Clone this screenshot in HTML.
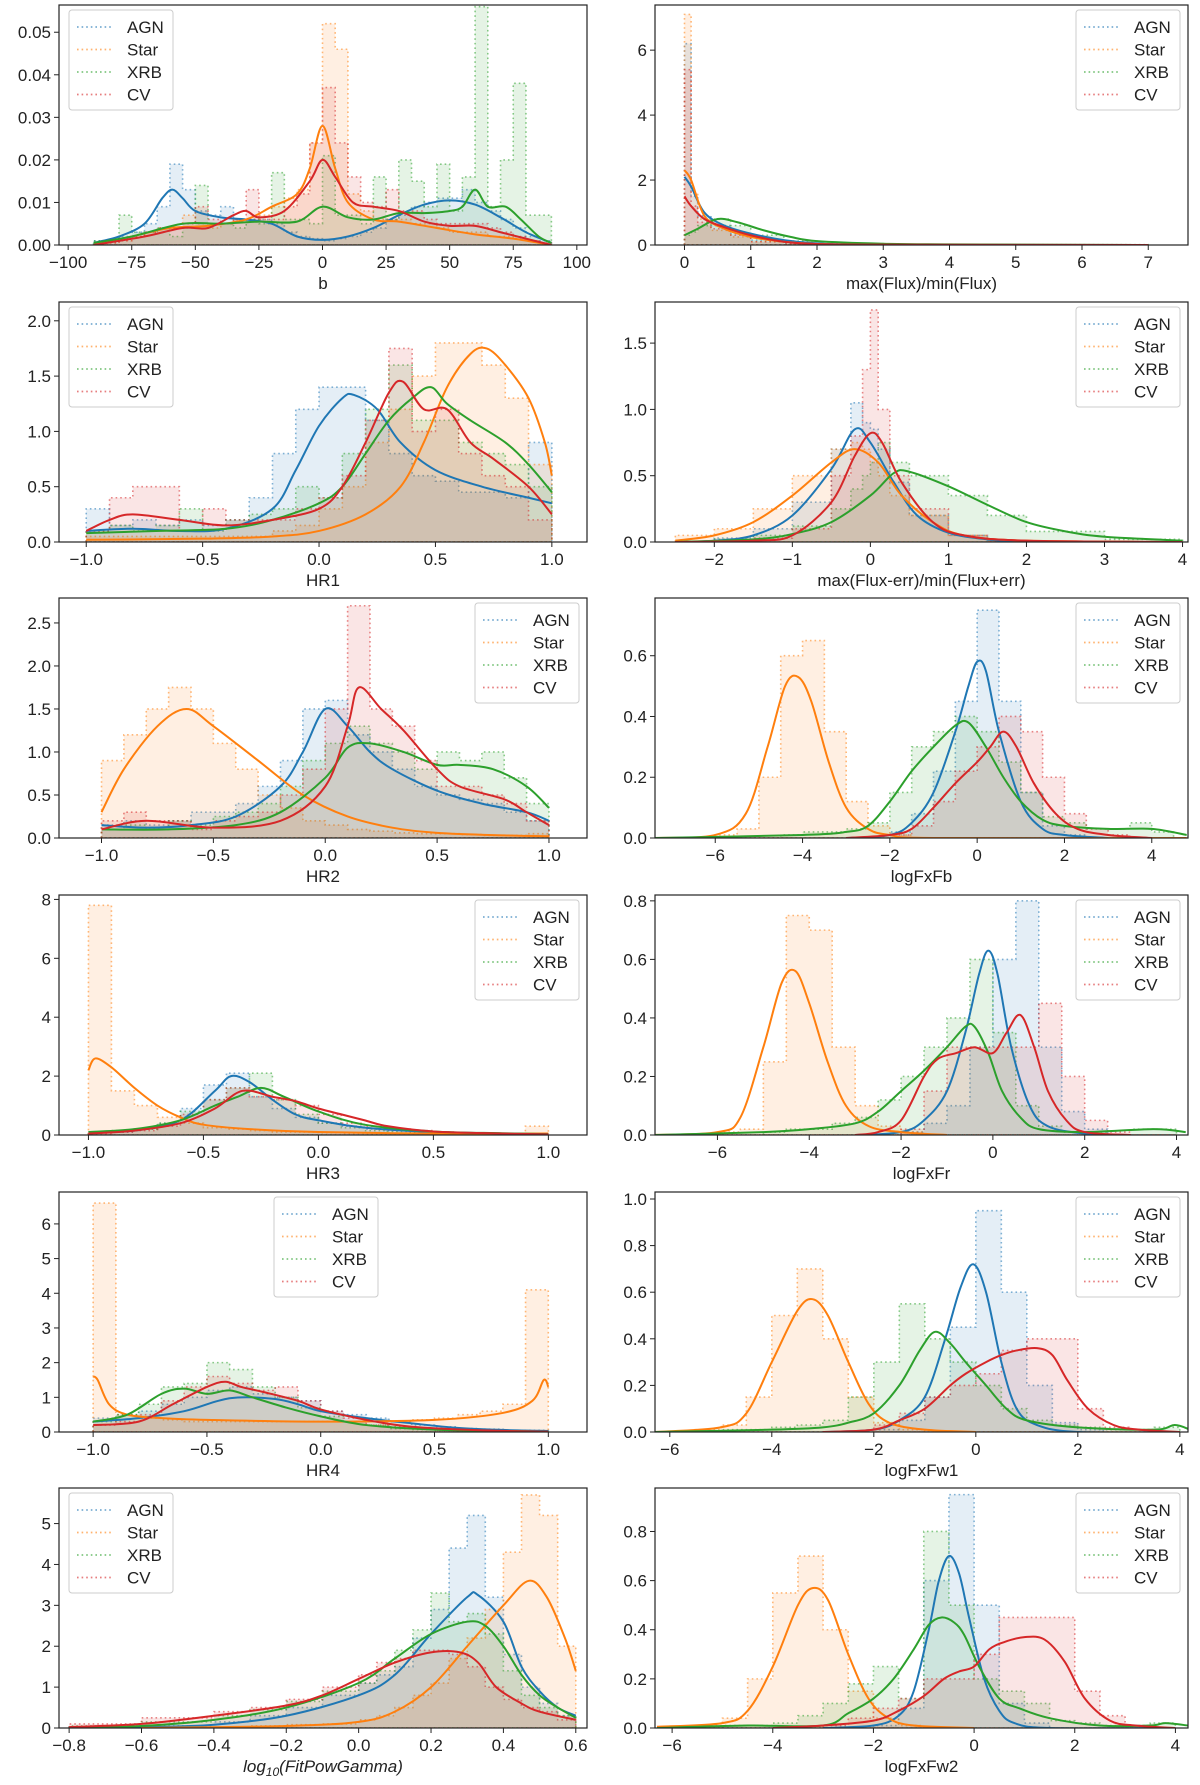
<!DOCTYPE html>
<html><head><meta charset="utf-8"><style>
html,body{margin:0;padding:0;background:#fff;}
svg{display:block;font-family:"Liberation Sans","DejaVu Sans",sans-serif;}
</style></head><body>
<svg id="fig" width="1200" height="1785" viewBox="0 0 1200 1785" xmlns="http://www.w3.org/2000/svg"></svg>
<script>
const seriesNames=["AGN","Star","XRB","CV"];
const seriesColors=["#1f77b4","#ff7f0e","#2ca02c","#d62728"];

// ---- Panel 1: b ----
const p1Edges=[-90,-85,-80,-75,-70,-65,-60,-55,-50,-45,-40,-35,-30,-25,-20,-15,-10,-5,0,5,10,15,20,25,30,35,40,45,50,55,60,65,70,75,80,85,90];
const p1HistAGN=[0.001,0.001,0.002,0.003,0.005,0.009,0.019,0.013,0.008,0.007,0.009,0.006,0.006,0.006,0.005,0.003,0.002,0.0015,0.001,0.0015,0.002,0.003,0.004,0.006,0.007,0.009,0.01,0.011,0.011,0.013,0.01,0.008,0.006,0.004,0.002,0.001];
const p1HistStar=[0,0.0005,0.001,0.002,0.003,0.004,0.004,0.007,0.005,0.004,0.005,0.006,0.006,0.007,0.009,0.011,0.013,0.024,0.052,0.046,0.012,0.008,0.006,0.006,0.006,0.005,0.005,0.004,0.003,0.003,0.003,0.002,0.002,0.0015,0.001,0.0005];
const p1HistXRB=[0.001,0.001,0.007,0.003,0.003,0.004,0.002,0.004,0.014,0.005,0.005,0.004,0.006,0.005,0.017,0.006,0.006,0.005,0.021,0.007,0.007,0.005,0.016,0.006,0.02,0.015,0.009,0.019,0.008,0.016,0.056,0.009,0.02,0.038,0.007,0.007];
const p1HistCV=[0,0.0005,0.001,0.002,0.003,0.004,0.004,0.005,0.009,0.006,0.005,0.006,0.013,0.006,0.006,0.009,0.012,0.024,0.037,0.024,0.016,0.01,0.009,0.013,0.008,0.008,0.006,0.005,0.005,0.005,0.005,0.004,0.003,0.002,0.001,0.0005];
const p1KdeAGN=[[-90,0.0005],[-80,0.002],[-70,0.005],[-63,0.011],[-59,0.013],[-55,0.011],[-50,0.008],[-40,0.0065],[-30,0.006],[-20,0.005],[-10,0.002],[0,0.0012],[10,0.002],[20,0.004],[30,0.007],[40,0.0095],[50,0.0105],[60,0.0095],[70,0.0065],[80,0.003],[90,0.0005]];
const p1KdeStar=[[-90,0],[-75,0.002],[-60,0.004],[-45,0.0045],[-30,0.006],[-20,0.009],[-10,0.012],[-5,0.018],[0,0.028],[5,0.018],[10,0.01],[20,0.006],[30,0.0055],[45,0.004],[60,0.0025],[75,0.0015],[90,0]];
const p1KdeXRB=[[-90,0.0005],[-75,0.002],[-55,0.005],[-40,0.005],[-25,0.0055],[-10,0.0055],[0,0.009],[10,0.0065],[20,0.006],[30,0.0075],[40,0.0075],[50,0.008],[55,0.009],[60,0.013],[65,0.009],[72,0.009],[78,0.006],[85,0.002],[90,0.0005]];
const p1KdeCV=[[-90,0],[-70,0.002],[-55,0.004],[-45,0.004],[-35,0.007],[-30,0.008],[-25,0.0065],[-15,0.008],[-5,0.015],[0,0.02],[5,0.016],[12,0.01],[20,0.009],[30,0.008],[40,0.0055],[50,0.0045],[60,0.0045],[70,0.003],[80,0.0015],[90,0]];
const p1XTicks=[-100,-75,-50,-25,0,25,50,75,100];
const p1YTicks=[0,0.01,0.02,0.03,0.04,0.05];
const p1YLabels=["0.00","0.01","0.02","0.03","0.04","0.05"];

// ---- Panel 2: max(Flux)/min(Flux) ----
const p2Edges=[0,0.1,0.2,0.4,0.7,1.0,1.5,2,3,7];
const p2HistAGN=[6.2,1.5,0.9,0.6,0.35,0.15,0.05,0.01,0];
const p2HistStar=[7.1,1.6,0.8,0.45,0.25,0.1,0.03,0.01,0];
const p2HistXRB=[0.3,0.4,0.6,0.8,0.6,0.3,0.12,0.04,0.01];
const p2HistCV=[5.4,1.2,0.7,0.5,0.3,0.1,0.03,0.01,0];
const p2KdeAGN=[[0,2.1],[0.1,1.8],[0.3,1.0],[0.6,0.6],[1,0.35],[1.5,0.15],[2,0.05],[3,0.01],[7,0]];
const p2KdeStar=[[0,2.3],[0.1,2.0],[0.3,0.9],[0.6,0.5],[1,0.25],[1.5,0.1],[2,0.03],[3,0.01],[7,0]];
const p2KdeXRB=[[0,0.3],[0.2,0.5],[0.5,0.8],[0.8,0.7],[1.2,0.45],[1.6,0.25],[2,0.12],[3,0.04],[4,0.02],[7,0]];
const p2KdeCV=[[0,1.5],[0.1,1.2],[0.3,0.8],[0.6,0.55],[1,0.3],[1.5,0.1],[2,0.03],[3,0.01],[7,0]];
const p2XTicks=[0,1,2,3,4,5,6,7];
const p2YTicks=[0,2,4,6];

// ---- Panel 3: HR1 ----
const p3Edges=[-1,-0.9,-0.8,-0.7,-0.6,-0.5,-0.4,-0.3,-0.2,-0.1,0,0.1,0.2,0.3,0.4,0.5,0.6,0.7,0.8,0.9,1.0];
const p3HistAGN=[0.3,0.15,0.2,0.15,0.2,0.15,0.2,0.4,0.8,1.2,1.4,1.4,1.1,0.8,0.6,0.55,0.45,0.45,0.4,0.9];
const p3HistStar=[0.05,0.05,0.05,0.05,0.05,0.05,0.05,0.05,0.1,0.15,0.3,0.5,0.9,1.2,1.5,1.8,1.8,1.6,1.3,0.7];
const p3HistXRB=[0.1,0.15,0.1,0.15,0.3,0.1,0.2,0.25,0.3,0.5,0.4,0.8,1.2,1.6,1.1,1.1,0.9,0.8,0.7,0.5];
const p3HistCV=[0.1,0.4,0.5,0.5,0.1,0.3,0.2,0.2,0.2,0.3,0.4,0.6,1.1,1.75,1.0,1.2,0.8,0.6,0.5,0.2];
const p3KdeAGN=[[-1,0.1],[-0.8,0.12],[-0.6,0.1],[-0.4,0.12],[-0.2,0.3],[-0.1,0.65],[0,1.05],[0.1,1.3],[0.15,1.33],[0.25,1.2],[0.35,0.9],[0.5,0.65],[0.7,0.5],[0.9,0.4],[1,0.35]];
const p3KdeStar=[[-1,0.02],[-0.5,0.03],[-0.2,0.05],[0,0.1],[0.2,0.25],[0.35,0.5],[0.45,0.9],[0.55,1.4],[0.65,1.7],[0.72,1.75],[0.8,1.6],[0.9,1.3],[0.97,0.9],[1.0,0.6]];
const p3KdeXRB=[[-1,0.08],[-0.7,0.1],[-0.4,0.12],[-0.2,0.2],[0,0.35],[0.1,0.5],[0.2,0.8],[0.3,1.1],[0.4,1.3],[0.48,1.4],[0.55,1.25],[0.65,1.1],[0.8,0.9],[0.9,0.7],[1,0.45]];
const p3KdeCV=[[-1,0.1],[-0.9,0.2],[-0.8,0.25],[-0.6,0.2],[-0.4,0.15],[-0.2,0.2],[0,0.3],[0.1,0.5],[0.2,0.9],[0.3,1.35],[0.36,1.45],[0.45,1.2],[0.55,1.2],[0.65,0.9],[0.75,0.75],[0.9,0.5],[1,0.25]];
const p3XTicks=[-1,-0.5,0,0.5,1];
const p3XLabels=["−1.0","−0.5","0.0","0.5","1.0"];
const p3YTicks=[0,0.5,1,1.5,2];
const p3YLabels=["0.0","0.5","1.0","1.5","2.0"];

// ---- Panel 4: max(Flux-err)/min(Flux+err) ----
const p4Edges=[-2.5,-2,-1.5,-1,-0.5,-0.25,-0.1,0,0.1,0.25,0.5,1,1.5,2,3,4];
const p4HistAGN=[0,0.03,0.1,0.3,0.7,1.05,0.9,0.85,0.7,0.45,0.2,0.05,0.01,0,0];
const p4HistStar=[0.05,0.1,0.25,0.5,0.7,0.75,0.7,0.6,0.5,0.35,0.2,0.05,0.01,0,0];
const p4HistXRB=[0,0.02,0.05,0.12,0.25,0.4,0.5,0.6,0.75,0.6,0.5,0.35,0.2,0.08,0.02];
const p4HistCV=[0,0,0.03,0.1,0.5,0.8,1.3,1.75,1.0,0.5,0.25,0.05,0.01,0,0];
const p4KdeAGN=[[-2.5,0],[-2,0.01],[-1.5,0.05],[-1,0.2],[-0.5,0.55],[-0.2,0.85],[0,0.75],[0.3,0.45],[0.6,0.2],[1,0.07],[1.5,0.02],[2,0.005],[4,0]];
const p4KdeStar=[[-2.5,0.01],[-2,0.05],[-1.5,0.15],[-1,0.35],[-0.5,0.6],[-0.2,0.7],[0.1,0.6],[0.4,0.35],[0.8,0.15],[1.2,0.05],[2,0.01],[4,0]];
const p4KdeXRB=[[-2.5,0],[-1.5,0.02],[-1,0.06],[-0.5,0.15],[0,0.35],[0.3,0.52],[0.5,0.53],[1,0.42],[1.5,0.28],[2,0.15],[2.5,0.08],[3,0.04],[4,0.01]];
const p4KdeCV=[[-2.5,0],[-1.5,0.01],[-1,0.05],[-0.5,0.3],[-0.2,0.65],[0,0.82],[0.15,0.75],[0.4,0.45],[0.8,0.15],[1.2,0.05],[2,0.01],[4,0]];
const p4XTicks=[-2,-1,0,1,2,3,4];
const p4YTicks=[0,0.5,1,1.5];
const p4YLabels=["0.0","0.5","1.0","1.5"];

// ---- Panel 5: HR2 ----
const p5Edges=[-1,-0.9,-0.8,-0.7,-0.6,-0.5,-0.4,-0.3,-0.2,-0.1,0,0.1,0.2,0.3,0.4,0.5,0.6,0.7,0.8,0.9,1.0];
const p5HistAGN=[0.15,0.2,0.15,0.2,0.3,0.3,0.4,0.6,0.9,1.5,1.6,1.2,1.0,0.8,0.6,0.5,0.45,0.4,0.3,0.2];
const p5HistStar=[0.9,1.2,1.5,1.75,1.5,1.1,0.8,0.5,0.35,0.2,0.15,0.1,0.08,0.06,0.05,0.05,0.04,0.03,0.03,0.05];
const p5HistXRB=[0.1,0.15,0.1,0.2,0.15,0.25,0.3,0.4,0.6,0.9,1.1,1.3,1.1,1.0,0.8,1.0,0.9,1.0,0.7,0.4];
const p5HistCV=[0.2,0.3,0.2,0.2,0.1,0.2,0.25,0.3,0.5,0.8,1.5,2.7,1.5,1.3,0.9,0.6,0.6,0.5,0.4,0.2];
const p5KdeAGN=[[-1,0.15],[-0.8,0.12],[-0.6,0.15],[-0.4,0.25],[-0.2,0.6],[-0.1,1.0],[0,1.5],[0.1,1.3],[0.2,1.0],[0.3,0.8],[0.5,0.55],[0.7,0.4],[0.9,0.3],[1,0.2]];
const p5KdeStar=[[-1,0.3],[-0.9,0.8],[-0.75,1.3],[-0.62,1.5],[-0.5,1.3],[-0.3,0.9],[-0.1,0.5],[0.1,0.25],[0.3,0.12],[0.5,0.06],[0.8,0.03],[1,0.02]];
const p5KdeXRB=[[-1,0.1],[-0.7,0.1],[-0.4,0.15],[-0.2,0.3],[0,0.7],[0.1,1.05],[0.2,1.1],[0.35,1.0],[0.5,0.85],[0.6,0.85],[0.75,0.8],[0.9,0.6],[1,0.35]];
const p5KdeCV=[[-1,0.1],[-0.8,0.2],[-0.5,0.12],[-0.2,0.2],[0,0.6],[0.1,1.3],[0.15,1.75],[0.25,1.5],[0.35,1.25],[0.5,0.8],[0.6,0.6],[0.8,0.45],[0.9,0.3],[1,0.15]];
const p5YTicks=[0,0.5,1,1.5,2,2.5];
const p5YLabels=["0.0","0.5","1.0","1.5","2.0","2.5"];

// ---- Panel 6: logFxFb ----
const p6Edges=[-7,-6.5,-6,-5.5,-5,-4.5,-4,-3.5,-3,-2.5,-2,-1.5,-1,-0.5,0,0.5,1,1.5,2,2.5,3,3.5,4,4.5];
const p6HistAGN=[0,0,0,0,0,0,0,0,0,0,0.02,0.08,0.22,0.45,0.75,0.45,0.15,0.04,0.01,0,0,0,0];
const p6HistStar=[0,0,0.01,0.03,0.2,0.6,0.65,0.35,0.12,0.04,0.01,0,0,0,0,0,0,0,0,0,0,0,0];
const p6HistXRB=[0,0,0,0,0,0.01,0.02,0.02,0.03,0.05,0.15,0.3,0.35,0.4,0.35,0.25,0.15,0.07,0.05,0.03,0.03,0.05,0.02];
const p6HistCV=[0,0,0,0,0,0,0,0,0,0,0.01,0.04,0.12,0.22,0.3,0.4,0.35,0.2,0.08,0.03,0.01,0,0];
const p6KdeAGN=[[-3,0],[-2,0.01],[-1.5,0.05],[-1,0.15],[-0.5,0.35],[-0.2,0.5],[0,0.58],[0.2,0.55],[0.5,0.35],[1,0.12],[1.5,0.03],[2,0.01],[3,0]];
const p6KdeStar=[[-7.4,0],[-6,0.01],[-5.3,0.08],[-4.8,0.3],[-4.4,0.5],[-4.1,0.53],[-3.8,0.45],[-3.4,0.25],[-3,0.1],[-2.5,0.03],[-2,0.01],[-1,0],[4.8,0]];
const p6KdeXRB=[[-7.4,0],[-4,0.01],[-3,0.02],[-2.5,0.04],[-2,0.12],[-1.5,0.22],[-1,0.3],[-0.5,0.37],[-0.2,0.38],[0.2,0.3],[0.6,0.2],[1,0.12],[1.5,0.06],[2,0.04],[3,0.03],[4,0.03],[4.8,0.01]];
const p6KdeCV=[[-3,0],[-2,0.01],[-1.5,0.03],[-1,0.1],[-0.5,0.18],[0,0.25],[0.3,0.3],[0.6,0.35],[0.9,0.3],[1.3,0.18],[1.8,0.08],[2.3,0.03],[3,0.01],[4,0]];
const p6XTicks=[-6,-4,-2,0,2,4];
const p6YTicks=[0,0.2,0.4,0.6];
const p6YLabels=["0.0","0.2","0.4","0.6"];

// ---- Panel 7: HR3 ----
const p7Edges=p5Edges;
const p7HistAGN=[0.1,0.1,0.2,0.4,0.9,1.7,2.1,1.3,0.9,0.6,0.4,0.3,0.2,0.15,0.1,0.08,0.06,0.05,0.04,0.03];
const p7HistStar=[7.8,1.5,1.0,0.6,0.4,0.25,0.2,0.15,0.1,0.1,0.08,0.06,0.05,0.05,0.05,0.05,0.05,0.05,0.05,0.3];
const p7HistXRB=[0.1,0.15,0.2,0.4,0.8,1.2,1.6,2.1,1.2,0.7,0.4,0.25,0.15,0.12,0.1,0.08,0.06,0.05,0.04,0.03];
const p7HistCV=[0.05,0.1,0.15,0.3,0.7,1.2,1.6,1.3,1.2,1.0,0.7,0.4,0.3,0.2,0.15,0.1,0.05,0.05,0.03,0.02];
const p7KdeAGN=[[-1,0.1],[-0.8,0.15],[-0.6,0.5],[-0.45,1.5],[-0.38,2.0],[-0.3,1.8],[-0.2,1.2],[-0.1,0.7],[0,0.5],[0.2,0.25],[0.5,0.1],[0.8,0.05],[1,0.02]];
const p7KdeStar=[[-1,2.2],[-0.97,2.6],[-0.9,2.3],[-0.8,1.6],[-0.7,1.0],[-0.6,0.6],[-0.5,0.35],[-0.3,0.2],[0,0.1],[0.5,0.05],[1,0.05]];
const p7KdeXRB=[[-1,0.1],[-0.8,0.2],[-0.6,0.5],[-0.45,1.0],[-0.35,1.3],[-0.25,1.6],[-0.15,1.3],[0,0.8],[0.2,0.35],[0.5,0.12],[0.8,0.06],[1,0.03]];
const p7KdeCV=[[-1,0.05],[-0.8,0.15],[-0.6,0.4],[-0.45,0.9],[-0.33,1.5],[-0.2,1.3],[-0.1,1.15],[0,0.9],[0.1,0.7],[0.2,0.5],[0.3,0.3],[0.5,0.12],[0.8,0.05],[1,0.02]];
const p7YTicks=[0,2,4,6,8];

// ---- Panel 8: logFxFr ----
const p8Edges=[-7,-6.5,-6,-5.5,-5,-4.5,-4,-3.5,-3,-2.5,-2,-1.5,-1,-0.5,0,0.5,1,1.5,2,2.5,3,3.5,4];
const p8HistAGN=[0,0,0,0,0,0,0,0,0,0,0.01,0.04,0.1,0.3,0.6,0.8,0.3,0.08,0.02,0,0,0];
const p8HistStar=[0,0,0.01,0.02,0.25,0.75,0.7,0.3,0.1,0.03,0.01,0,0,0,0,0,0,0,0,0,0,0];
const p8HistXRB=[0,0,0,0,0.01,0.02,0.02,0.04,0.06,0.12,0.2,0.3,0.4,0.6,0.35,0.1,0.03,0.01,0.01,0,0.02,0.02];
const p8HistCV=[0,0,0,0,0,0,0,0,0,0,0.02,0.15,0.3,0.3,0.3,0.3,0.45,0.2,0.05,0.01,0,0];
const p8KdeAGN=[[-3,0],[-2,0.01],[-1.5,0.05],[-1,0.15],[-0.6,0.35],[-0.3,0.55],[-0.1,0.63],[0.1,0.55],[0.4,0.3],[0.8,0.1],[1.2,0.03],[2,0.005],[3,0]];
const p8KdeStar=[[-7.4,0],[-6,0.01],[-5.5,0.06],[-5,0.3],[-4.6,0.52],[-4.3,0.56],[-4,0.45],[-3.6,0.25],[-3.2,0.1],[-2.7,0.03],[-2,0.01],[-1,0]];
const p8KdeXRB=[[-7.4,0],[-5,0.01],[-4,0.02],[-3,0.04],[-2.5,0.08],[-2,0.15],[-1.5,0.22],[-1,0.3],[-0.6,0.37],[-0.4,0.37],[-0.1,0.28],[0.2,0.15],[0.6,0.06],[1,0.02],[2,0.01],[3.5,0.02],[4.2,0.01]];
const p8KdeCV=[[-3,0],[-2.5,0.01],[-2,0.05],[-1.5,0.2],[-1.2,0.26],[-0.8,0.28],[-0.4,0.3],[0,0.28],[0.3,0.35],[0.6,0.41],[0.9,0.3],[1.2,0.15],[1.6,0.05],[2,0.01],[3,0]];
const p8YTicks=[0,0.2,0.4,0.6,0.8];
const p8YLabels=["0.0","0.2","0.4","0.6","0.8"];

// ---- Panel 9: HR4 ----
const p9Edges=p5Edges;
const p9HistAGN=[0.4,0.5,0.6,0.8,1.0,1.2,1.3,1.1,1.0,0.9,0.6,0.5,0.4,0.3,0.2,0.15,0.1,0.08,0.05,0.05];
const p9HistStar=[6.6,0.5,0.4,0.35,0.3,0.3,0.3,0.3,0.3,0.3,0.3,0.3,0.3,0.3,0.35,0.4,0.5,0.6,0.8,4.1];
const p9HistXRB=[0.3,0.5,0.8,1.3,1.4,2.0,1.8,1.3,1.0,0.7,0.45,0.3,0.2,0.1,0.07,0.05,0.03,0.03,0.02,0.01];
const p9HistCV=[0.2,0.3,0.5,0.9,1.3,1.6,1.4,1.2,1.3,0.9,0.6,0.4,0.2,0.15,0.1,0.05,0.04,0.03,0.02,0.01];
const p9KdeAGN=[[-1,0.3],[-0.8,0.4],[-0.6,0.6],[-0.45,0.9],[-0.35,1.0],[-0.2,0.95],[-0.1,0.8],[0,0.6],[0.2,0.4],[0.4,0.25],[0.6,0.12],[0.8,0.06],[1,0.03]];
const p9KdeStar=[[-1,1.6],[-0.98,1.5],[-0.93,0.8],[-0.85,0.5],[-0.7,0.4],[-0.5,0.35],[0,0.3],[0.5,0.35],[0.8,0.55],[0.93,0.9],[0.98,1.5],[1.0,1.3]];
const p9KdeXRB=[[-1,0.3],[-0.85,0.5],[-0.7,1.1],[-0.6,1.25],[-0.5,1.1],[-0.4,1.2],[-0.3,1.0],[-0.15,0.7],[0,0.45],[0.2,0.2],[0.5,0.07],[0.8,0.03],[1,0.01]];
const p9KdeCV=[[-1,0.2],[-0.8,0.3],[-0.65,0.8],[-0.5,1.3],[-0.42,1.45],[-0.35,1.3],[-0.25,1.15],[-0.1,0.9],[0,0.65],[0.2,0.35],[0.4,0.15],[0.7,0.05],[1,0.01]];
const p9YTicks=[0,1,2,3,4,5,6];

// ---- Panel 10: logFxFw1 ----
const p10Edges=[-6,-5.5,-5,-4.5,-4,-3.5,-3,-2.5,-2,-1.5,-1,-0.5,0,0.5,1,1.5,2,2.5,3,3.5,4];
const p10HistAGN=[0,0,0,0,0,0,0,0,0.01,0.05,0.15,0.45,0.95,0.6,0.2,0.04,0.01,0,0,0];
const p10HistStar=[0,0.01,0.03,0.15,0.5,0.7,0.4,0.15,0.04,0.01,0,0,0,0,0,0,0,0,0,0];
const p10HistXRB=[0,0,0.01,0.01,0.02,0.03,0.05,0.15,0.3,0.55,0.4,0.3,0.2,0.1,0.05,0.03,0.02,0.01,0.01,0.02];
const p10HistCV=[0,0,0,0,0,0,0,0,0.03,0.08,0.15,0.2,0.25,0.35,0.4,0.4,0.1,0.02,0.01,0];
const p10KdeAGN=[[-3,0],[-2,0.01],[-1.5,0.05],[-1,0.15],[-0.6,0.4],[-0.3,0.62],[-0.05,0.72],[0.2,0.6],[0.5,0.3],[0.8,0.1],[1.2,0.03],[2,0],[4,0]];
const p10KdeStar=[[-6.3,0],[-5,0.02],[-4.5,0.08],[-4,0.3],[-3.5,0.52],[-3.2,0.57],[-2.9,0.5],[-2.5,0.3],[-2.1,0.12],[-1.7,0.04],[-1,0.01],[0,0]];
const p10KdeXRB=[[-6.3,0],[-4,0.01],[-3,0.02],[-2.5,0.04],[-2,0.08],[-1.5,0.2],[-1.1,0.35],[-0.8,0.43],[-0.5,0.38],[-0.2,0.3],[0.2,0.2],[0.6,0.1],[1,0.05],[2,0.02],[3.5,0.01],[3.9,0.03],[4.2,0.01]];
const p10KdeCV=[[-3,0],[-2,0.01],[-1.5,0.05],[-1,0.1],[-0.5,0.2],[-0.2,0.25],[0.2,0.3],[0.5,0.33],[0.8,0.35],[1.2,0.36],[1.5,0.33],[1.8,0.22],[2.2,0.1],[2.7,0.03],[3.2,0.01],[4,0]];
const p10YTicks=[0,0.2,0.4,0.6,0.8,1.0];
const p10YLabels=["0.0","0.2","0.4","0.6","0.8","1.0"];

// ---- Panel 11: log10(FitPowGamma) ----
const p11Edges=[-0.8,-0.6,-0.4,-0.3,-0.2,-0.1,0,0.05,0.1,0.15,0.2,0.25,0.3,0.35,0.4,0.45,0.5,0.55,0.6];
const p11HistAGN=[0.02,0.05,0.15,0.3,0.5,0.8,1.1,1.3,1.5,2.2,2.9,4.4,5.2,3.2,1.8,1.0,0.6,0.3];
const p11HistStar=[0,0,0.02,0.05,0.08,0.1,0.2,0.3,0.5,0.8,1.1,1.7,2.2,2.9,4.3,5.7,5.2,2.0];
const p11HistXRB=[0.05,0.15,0.3,0.45,0.65,0.9,1.1,1.4,1.9,2.4,3.3,2.6,2.8,2.3,1.4,0.8,0.5,0.3];
const p11HistCV=[0.1,0.25,0.4,0.5,0.7,1.0,1.3,1.6,1.7,1.9,1.9,1.8,1.5,1.0,0.7,0.5,0.4,0.2];
const p11KdeAGN=[[-0.8,0],[-0.6,0.02],[-0.4,0.08],[-0.2,0.3],[0,0.8],[0.1,1.3],[0.2,2.3],[0.3,3.2],[0.33,3.25],[0.4,2.6],[0.45,1.5],[0.5,0.9],[0.55,0.5],[0.6,0.3]];
const p11KdeStar=[[-0.6,0],[-0.2,0.05],[0,0.15],[0.1,0.4],[0.2,1.0],[0.3,2.0],[0.4,3.0],[0.47,3.6],[0.52,3.2],[0.57,2.2],[0.6,1.4]];
const p11KdeXRB=[[-0.8,0],[-0.6,0.05],[-0.4,0.2],[-0.2,0.5],[0,1.1],[0.1,1.7],[0.2,2.3],[0.3,2.6],[0.35,2.5],[0.4,2.0],[0.45,1.3],[0.5,0.8],[0.55,0.5],[0.6,0.25]];
const p11KdeCV=[[-0.8,0.02],[-0.6,0.1],[-0.4,0.3],[-0.2,0.55],[-0.1,0.8],[0,1.2],[0.1,1.6],[0.2,1.85],[0.28,1.85],[0.33,1.6],[0.38,1.0],[0.45,0.6],[0.5,0.4],[0.6,0.2]];
const p11XTicks=[-0.8,-0.6,-0.4,-0.2,0,0.2,0.4,0.6];
const p11XLabels=["−0.8","−0.6","−0.4","−0.2","0.0","0.2","0.4","0.6"];
const p11YTicks=[0,1,2,3,4,5];

// ---- Panel 12: logFxFw2 ----
const p12Edges=p10Edges;
const p12HistAGN=[0,0,0,0,0,0,0,0,0.01,0.08,0.6,0.95,0.5,0.1,0.02,0,0,0,0,0];
const p12HistStar=[0.005,0.01,0.04,0.2,0.55,0.7,0.4,0.15,0.04,0.01,0,0,0,0,0,0,0,0,0,0];
const p12HistXRB=[0,0,0.01,0.01,0.02,0.05,0.1,0.18,0.25,0.12,0.8,0.5,0.2,0.15,0.1,0.03,0.02,0.01,0.01,0.02];
const p12HistCV=[0,0,0,0,0,0,0.01,0.04,0.08,0.12,0.2,0.2,0.3,0.45,0.45,0.45,0.15,0.05,0.01,0];
const p12KdeAGN=[[-3,0],[-2,0.01],[-1.5,0.05],[-1.2,0.15],[-0.9,0.4],[-0.7,0.6],[-0.5,0.7],[-0.3,0.63],[-0.1,0.45],[0.2,0.2],[0.5,0.07],[0.8,0.02],[1.5,0],[4,0]];
const p12KdeStar=[[-6.3,0.005],[-5,0.02],[-4.5,0.07],[-4,0.25],[-3.5,0.5],[-3.2,0.57],[-2.9,0.52],[-2.5,0.3],[-2.1,0.12],[-1.7,0.04],[-1.2,0.01],[0,0]];
const p12KdeXRB=[[-6.3,0],[-4.5,0.01],[-3,0.01],[-2.5,0.06],[-2,0.12],[-1.6,0.2],[-1.2,0.32],[-0.9,0.42],[-0.65,0.45],[-0.4,0.43],[-0.2,0.38],[0.1,0.25],[0.5,0.12],[0.9,0.08],[1.5,0.04],[2.5,0.01],[3.5,0.01],[3.8,0.02],[4.25,0.01]];
const p12KdeCV=[[-4,0],[-3,0.01],[-2,0.03],[-1.5,0.07],[-1,0.13],[-0.6,0.2],[-0.3,0.23],[0,0.25],[0.3,0.32],[0.6,0.35],[1,0.37],[1.4,0.36],[1.8,0.27],[2.2,0.12],[2.7,0.03],[3.2,0.01],[4,0]];

const svg=document.getElementById('fig');
const NS='http://www.w3.org/2000/svg';
function mk(tag,attrs,parent){const e=document.createElementNS(NS,tag);for(const k in attrs)e.setAttribute(k,attrs[k]);(parent||svg).appendChild(e);return e;}
function fmt(v){return (v<0?'−':'')+String(Math.abs(v));}

const colX=[59,655], colW=[528,533];
const rowY=[5,302,598,895,1192,1488], H=240;

function catmull(pts){let d='M'+pts[0][0]+','+pts[0][1];
 for(let i=0;i<pts.length-1;i++){const p0=pts[Math.max(0,i-1)],p1=pts[i],p2=pts[i+1],p3=pts[Math.min(pts.length-1,i+2)];
  const c1x=p1[0]+(p2[0]-p0[0])/6,c1y=p1[1]+(p2[1]-p0[1])/6,c2x=p2[0]-(p3[0]-p1[0])/6,c2y=p2[1]-(p3[1]-p1[1])/6;
  d+=' C'+c1x+','+c1y+' '+c2x+','+c2y+' '+p2[0]+','+p2[1];}
 return d;}

function panel(o){
 const x0=colX[o.col],w=colW[o.col],y0=rowY[o.row];
 const sx=v=>x0+(v-o.xmin)/(o.xmax-o.xmin)*w;
 const sy=v=>y0+H-(v-o.ymin)/(o.ymax-o.ymin)*H;
 const g=mk('g',{});
 
 
 const cid='clip-'+o.id;
 const cp=mk('clipPath',{id:cid},g);mk('rect',{x:x0,y:y0,width:w,height:H},cp);
 const plot=mk('g',{'clip-path':'url(#'+cid+')'},g);
 o.hists.forEach((vals,si)=>{
  let d='M'+sx(o.edges[0])+','+sy(0);
  vals.forEach((v,i)=>{d+=' L'+sx(o.edges[i])+','+sy(v)+' L'+sx(o.edges[i+1])+','+sy(v);});
  d+=' L'+sx(o.edges[vals.length])+','+sy(0)+' Z';
  const p=mk('path',{d:d,fill:seriesColors[si],'fill-opacity':0.12,stroke:seriesColors[si],'stroke-opacity':0.55,'stroke-width':1.6,'stroke-dasharray':'1.6,3'},plot);
  
  
 });
 o.kdes.forEach((pts,si)=>{
  const pp=pts.map(q=>[sx(q[0]),sy(q[1])]);
  const p=mk('path',{d:catmull(pp),fill:'none',stroke:seriesColors[si],'stroke-width':2},plot);
  
  
 });
 const fr=mk('rect',{x:x0,y:y0,width:w,height:H,fill:'none',stroke:'#222','stroke-width':1.2},g);
 
 
 o.xt.forEach((v,i)=>{const X=sx(v);
  mk('line',{x1:X,x2:X,y1:y0+H,y2:y0+H+5,stroke:'#222','stroke-width':1},g);
  const t=mk('text',{x:X,y:y0+H+23,'text-anchor':'middle','font-size':17,fill:'#222'},g);
  t.textContent=o.xl?o.xl[i]:fmt(v);
  
  
 });
 o.yt.forEach((v,i)=>{const Y=sy(v);
  mk('line',{x1:x0-5,x2:x0,y1:Y,y2:Y,stroke:'#222','stroke-width':1},g);
  const t=mk('text',{x:x0-8,y:Y+6,'text-anchor':'end','font-size':17,fill:'#222'},g);
  t.textContent=o.yl?o.yl[i]:fmt(v);
  
  
 });
 const xl=mk('text',{x:x0+w/2,y:y0+H+44,'text-anchor':'middle','font-size':17,fill:'#222'},g);
 if(o.italic){xl.setAttribute('font-style','italic');xl.innerHTML='log<tspan font-size="12" dy="4">10</tspan><tspan dy="-4">(FitPowGamma)</tspan>';}
 else xl.textContent=o.xlabel;
 
 
 const lw=104,lh=100;
 let lx=o.leg==='ul'?x0+10:(o.leg==='ur'?x0+w-lw-8:o.legX);
 const ly=y0+5;
 const lg=mk('g',{},g);
 
 
 mk('rect',{x:lx,y:ly,width:lw,height:lh,rx:3,fill:'#fff','fill-opacity':0.85,stroke:'#ccc','stroke-width':1},lg);
 seriesNames.forEach((n,si)=>{const yy=ly+17+si*22.5;
  mk('line',{x1:lx+8,x2:lx+42,y1:yy,y2:yy,stroke:seriesColors[si],'stroke-opacity':0.6,'stroke-width':1.8,'stroke-dasharray':'1.6,3'},lg);
  const t=mk('text',{x:lx+58,y:yy+6,'font-size':17,fill:'#222'},lg);
  t.textContent=n;
  
  
 });
}

const hrX=[-1,-0.5,0,0.5,1], hrXL=["−1.0","−0.5","0.0","0.5","1.0"];
panel({id:'b',col:0,row:0,xmin:-103.6,xmax:104,ymin:0,ymax:0.0564,edges:p1Edges,hists:[p1HistAGN,p1HistStar,p1HistXRB,p1HistCV],kdes:[p1KdeAGN,p1KdeStar,p1KdeXRB,p1KdeCV],xt:p1XTicks,yt:p1YTicks,yl:p1YLabels,xlabel:'b',leg:'ul'});
panel({id:'flux-ratio',col:1,row:0,xmin:-0.445,xmax:7.6,ymin:0,ymax:7.39,edges:p2Edges,hists:[p2HistAGN,p2HistStar,p2HistXRB,p2HistCV],kdes:[p2KdeAGN,p2KdeStar,p2KdeXRB,p2KdeCV],xt:p2XTicks,yt:p2YTicks,xlabel:'max(Flux)/min(Flux)',leg:'ur'});
panel({id:'hr1',col:0,row:1,xmin:-1.117,xmax:1.151,ymin:0,ymax:2.17,edges:p3Edges,hists:[p3HistAGN,p3HistStar,p3HistXRB,p3HistCV],kdes:[p3KdeAGN,p3KdeStar,p3KdeXRB,p3KdeCV],xt:p3XTicks,xl:p3XLabels,yt:p3YTicks,yl:p3YLabels,xlabel:'HR1',leg:'ul'});
panel({id:'flux-err-ratio',col:1,row:1,xmin:-2.76,xmax:4.07,ymin:0,ymax:1.81,edges:p4Edges,hists:[p4HistAGN,p4HistStar,p4HistXRB,p4HistCV],kdes:[p4KdeAGN,p4KdeStar,p4KdeXRB,p4KdeCV],xt:p4XTicks,yt:p4YTicks,yl:p4YLabels,xlabel:'max(Flux-err)/min(Flux+err)',leg:'ur'});
panel({id:'hr2',col:0,row:2,xmin:-1.19,xmax:1.17,ymin:0,ymax:2.79,edges:p5Edges,hists:[p5HistAGN,p5HistStar,p5HistXRB,p5HistCV],kdes:[p5KdeAGN,p5KdeStar,p5KdeXRB,p5KdeCV],xt:hrX,xl:hrXL,yt:p5YTicks,yl:p5YLabels,xlabel:'HR2',leg:'ur'});
panel({id:'logfxfb',col:1,row:2,xmin:-7.38,xmax:4.83,ymin:0,ymax:0.79,edges:p6Edges,hists:[p6HistAGN,p6HistStar,p6HistXRB,p6HistCV],kdes:[p6KdeAGN,p6KdeStar,p6KdeXRB,p6KdeCV],xt:p6XTicks,yt:p6YTicks,yl:p6YLabels,xlabel:'logFxFb',leg:'ur'});
panel({id:'hr3',col:0,row:3,xmin:-1.128,xmax:1.168,ymin:0,ymax:8.15,edges:p7Edges,hists:[p7HistAGN,p7HistStar,p7HistXRB,p7HistCV],kdes:[p7KdeAGN,p7KdeStar,p7KdeXRB,p7KdeCV],xt:hrX,xl:hrXL,yt:p7YTicks,xlabel:'HR3',leg:'ur'});
panel({id:'logfxfr',col:1,row:3,xmin:-7.36,xmax:4.25,ymin:0,ymax:0.82,edges:p8Edges,hists:[p8HistAGN,p8HistStar,p8HistXRB,p8HistCV],kdes:[p8KdeAGN,p8KdeStar,p8KdeXRB,p8KdeCV],xt:p6XTicks,yt:p8YTicks,yl:p8YLabels,xlabel:'logFxFr',leg:'ur'});
panel({id:'hr4',col:0,row:4,xmin:-1.15,xmax:1.17,ymin:0,ymax:6.92,edges:p9Edges,hists:[p9HistAGN,p9HistStar,p9HistXRB,p9HistCV],kdes:[p9KdeAGN,p9KdeStar,p9KdeXRB,p9KdeCV],xt:hrX,xl:hrXL,yt:p9YTicks,xlabel:'HR4',leg:'c',legX:274});
panel({id:'logfxfw1',col:1,row:4,xmin:-6.29,xmax:4.16,ymin:0,ymax:1.03,edges:p10Edges,hists:[p10HistAGN,p10HistStar,p10HistXRB,p10HistCV],kdes:[p10KdeAGN,p10KdeStar,p10KdeXRB,p10KdeCV],xt:p6XTicks,yt:p10YTicks,yl:p10YLabels,xlabel:'logFxFw1',leg:'ur'});
panel({id:'fitpowgamma',col:0,row:5,xmin:-0.828,xmax:0.631,ymin:0,ymax:5.87,edges:p11Edges,hists:[p11HistAGN,p11HistStar,p11HistXRB,p11HistCV],kdes:[p11KdeAGN,p11KdeStar,p11KdeXRB,p11KdeCV],xt:p11XTicks,xl:p11XLabels,yt:p11YTicks,italic:true,leg:'ul'});
panel({id:'logfxfw2',col:1,row:5,xmin:-6.34,xmax:4.25,ymin:0,ymax:0.977,edges:p12Edges,hists:[p12HistAGN,p12HistStar,p12HistXRB,p12HistCV],kdes:[p12KdeAGN,p12KdeStar,p12KdeXRB,p12KdeCV],xt:p6XTicks,yt:p8YTicks,yl:p8YLabels,xlabel:'logFxFw2',leg:'ur'});
</script>
</body></html>
